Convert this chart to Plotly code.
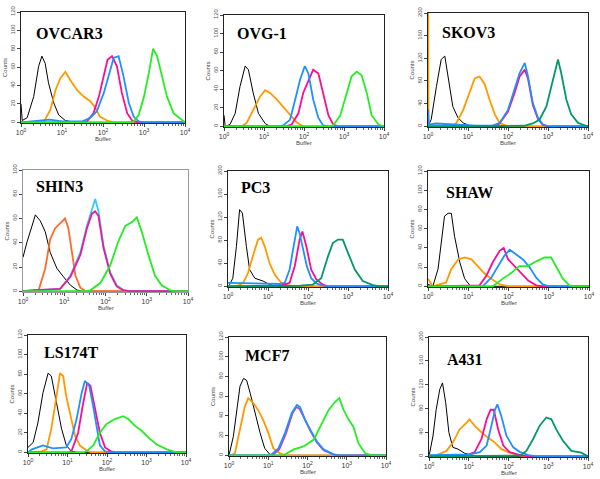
import plotly.graph_objects as go

W, H = 600, 479

# ---- data: (log10 fluorescence, counts) ----
OVCAR3_BLACK = [(0,20),(0.03,2),(0.15,5),(0.31,28),(0.43,61),(0.51,72),(0.59,64),(0.67,43),(0.8,21),(0.92,8),(1.08,2),(1.3,0),(4,0)]
OVCAR3_ORANGE = [(0,0),(0.55,0),(0.72,14),(0.84,35),(0.96,48),(1.08,55),(1.2,46),(1.37,35),(1.53,28),(1.69,23),(1.81,16),(1.93,6),(2.1,2),(2.25,0),(4,0)]
OVCAR3_MAGENTA = [(0,0),(1.5,0),(1.61,1),(1.77,10),(1.9,28),(2.02,50),(2.11,68),(2.22,72),(2.34,61),(2.46,32),(2.59,10),(2.71,2),(2.85,0),(4,0)]
OVCAR3_BLUE = [(0,0),(0.5,2),(0.7,3),(1.0,1),(1.5,1),(1.69,5),(1.85,12),(2.02,32),(2.15,54),(2.26,70),(2.38,72),(2.5,50),(2.63,21),(2.75,6),(2.87,1),(3.0,0),(4,0)]
OVCAR3_GREEN = [(0,0),(2.6,0),(2.75,1),(2.87,8),(3.0,28),(3.12,54),(3.22,80),(3.32,72),(3.44,50),(3.56,28),(3.72,10),(3.93,2),(4,0)]

OVG1_BLACK = [(0,12),(0.03,0),(0.15,2),(0.28,14),(0.4,43),(0.53,65),(0.61,61),(0.73,36),(0.86,14),(1.03,3),(1.15,0),(4,0)]
OVG1_ORANGE = [(0,0),(0.45,0),(0.57,4),(0.73,18),(0.9,32),(1.03,39),(1.15,36),(1.32,29),(1.48,21),(1.65,12),(1.82,4),(1.98,0),(4,0)]
OVG1_BLUE = [(0,0),(1.35,0),(1.48,1),(1.65,7),(1.78,29),(1.9,50),(2.02,65),(2.11,57),(2.23,29),(2.36,9),(2.48,1),(2.6,0),(4,0)]
OVG1_MAGENTA = [(0,0),(1.55,0),(1.69,2),(1.86,14),(1.98,36),(2.11,50),(2.23,61),(2.36,57),(2.48,36),(2.61,12),(2.73,2),(2.85,0),(4,0)]
OVG1_GREEN = [(0,0),(2.6,0),(2.73,1),(2.9,11),(3.07,36),(3.19,54),(3.32,59),(3.44,55),(3.57,36),(3.69,12),(3.86,2),(4,0)]

SKOV3_ORANGE = [(0.005,200),(0.012,0),(0.6,0),(0.71,6),(0.88,29),(1.04,59),(1.17,85),(1.29,88),(1.42,74),(1.54,47),(1.67,21),(1.79,6),(1.96,1),(2.1,0),(4,0)]
SKOV3_BLACK = [(0,0),(0.08,12),(0.21,70),(0.33,118),(0.42,124),(0.5,88),(0.62,35),(0.75,15),(0.88,6),(1.04,1),(1.2,0),(4,0)]
SKOV3_MAGENTA = [(0,0),(1.7,0),(1.79,5),(2.0,26),(2.17,60),(2.29,88),(2.42,100),(2.5,84),(2.62,38),(2.75,13),(2.87,3),(3.0,0),(4,0)]
SKOV3_BLUE = [(0.005,30),(0.02,3),(0.2,5),(0.5,4),(0.8,2),(1.2,1),(1.6,1),(1.79,6),(2.0,29),(2.17,65),(2.29,94),(2.42,112),(2.5,88),(2.62,41),(2.75,15),(2.87,3),(3.0,0),(4,0)]
SKOV3_TEAL = [(0,0),(2.4,1),(2.62,5),(2.79,12),(2.96,35),(3.08,70),(3.19,106),(3.25,118),(3.33,94),(3.46,47),(3.58,21),(3.75,6),(3.95,1),(4,0)]

SHIN3_BLACK = [(0,28),(0.1,41),(0.22,54),(0.3,63),(0.42,58),(0.54,49),(0.66,32),(0.82,19),(0.98,12),(1.15,5),(1.31,1),(1.45,0),(4,0)]
SHIN3_ORANGE = [(0,0),(0.38,1),(0.54,19),(0.66,43),(0.78,52),(0.9,56),(1.02,60),(1.1,52),(1.19,30),(1.27,13),(1.39,3),(1.52,0),(4,0)]
SHIN3_CYAN = [(0,0),(0.5,1),(0.9,2),(1.15,13),(1.39,32),(1.55,54),(1.67,68),(1.75,76),(1.83,66),(1.95,38),(2.11,16),(2.27,5),(2.43,1),(2.6,0),(4,0)]
SHIN3_MAGENTA = [(0,0),(0.3,1),(0.9,2),(1.15,12),(1.39,30),(1.55,52),(1.67,64),(1.75,66),(1.83,62),(1.95,36),(2.11,15),(2.27,4),(2.43,1),(2.6,0),(4,0)]
SHIN3_GREEN = [(0,0),(1.5,0),(1.64,1),(1.88,7),(2.11,21),(2.31,41),(2.48,54),(2.64,57),(2.76,61),(2.88,49),(3.04,30),(3.2,13),(3.36,5),(3.56,1),(3.7,0),(4,0)]

PC3_BLACK = [(0,0),(0.04,3),(0.12,14),(0.21,69),(0.29,133),(0.36,127),(0.46,69),(0.54,29),(0.67,14),(0.88,9),(1.04,3),(1.2,0),(4,0)]
PC3_ORANGE = [(0,0),(0.25,1),(0.38,6),(0.5,23),(0.62,52),(0.75,81),(0.83,84),(0.92,69),(1.04,40),(1.17,20),(1.33,6),(1.5,2),(1.65,0),(4,0)]
PC3_MAGENTA = [(0,0),(1.3,1),(1.54,6),(1.67,35),(1.79,81),(1.86,95),(1.96,69),(2.08,29),(2.21,12),(2.37,3),(2.5,0),(4,0)]
PC3_BLUE = [(0,6),(0.5,5),(1.0,4),(1.3,4),(1.42,6),(1.54,29),(1.64,69),(1.73,104),(1.79,92),(1.87,69),(1.97,35),(2.08,14),(2.21,5),(2.37,1),(2.5,0),(4,0)]
PC3_TEAL = [(0,0),(1.8,1),(2.12,3),(2.33,14),(2.5,52),(2.62,75),(2.75,81),(2.87,81),(3.0,58),(3.17,29),(3.37,9),(3.62,2),(3.8,0),(4,0)]

SHAW_BLACK = [(0,2),(0.12,0),(0.25,18),(0.33,45),(0.41,73),(0.5,76),(0.58,76),(0.66,52),(0.79,25),(0.91,8),(1.04,1),(1.15,0),(4,0)]
SHAW_ORANGE = [(0,8),(0.12,0),(0.45,4),(0.58,18),(0.75,28),(0.91,30),(1.08,28),(1.24,21),(1.41,13),(1.57,8),(1.78,2),(2.0,0),(4,0)]
SHAW_MAGENTA = [(0,0),(1.28,1),(1.45,11),(1.61,25),(1.78,37),(1.88,40),(1.99,28),(2.15,21),(2.32,13),(2.49,6),(2.69,1),(2.85,0),(4,0)]
SHAW_BLUE = [(0,0),(1.36,0),(1.57,9),(1.74,21),(1.9,32),(2.03,38),(2.2,33),(2.36,28),(2.52,20),(2.69,9),(2.85,2),(3.0,0),(4,0)]
SHAW_GREEN = [(0,0),(1.61,0),(1.86,8),(2.07,14),(2.27,21),(2.48,21),(2.69,26),(2.89,30),(3.06,30),(3.18,21),(3.35,8),(3.51,1),(3.65,0),(4,0)]

LS174T_BLACK = [(0,5),(0.13,10),(0.25,30),(0.38,61),(0.51,81),(0.59,78),(0.72,51),(0.85,24),(0.97,7),(1.1,1),(1.25,0),(4,0)]
LS174T_ORANGE = [(0,0),(0.35,1),(0.47,3),(0.59,24),(0.72,57),(0.81,81),(0.89,78),(0.97,57),(1.08,37),(1.19,17),(1.31,7),(1.48,2),(1.6,0),(4,0)]
LS174T_MAGENTA = [(0,0),(1.0,0),(1.1,1),(1.27,20),(1.4,51),(1.5,71),(1.58,68),(1.69,47),(1.82,20),(1.95,5),(2.1,1),(2.2,0),(4,0)]
LS174T_BLUE = [(0,0),(0.1,3),(0.38,7),(0.63,4),(0.97,5),(1.1,14),(1.23,34),(1.36,61),(1.44,73),(1.55,68),(1.65,47),(1.74,24),(1.82,7),(1.95,1),(2.1,0),(4,0)]
LS174T_GREEN = [(0,0),(1.4,0),(1.48,1),(1.65,7),(1.82,20),(1.99,29),(2.2,34),(2.41,37),(2.54,34),(2.71,27),(2.88,22),(3.05,15),(3.26,8),(3.52,3),(3.75,0),(4,0)]

MCF7_BLACK = [(0,0),(0.03,6),(0.11,19),(0.2,46),(0.28,70),(0.37,78),(0.45,76),(0.54,63),(0.66,43),(0.79,23),(0.91,7),(1.04,1),(1.2,0),(4,0)]
MCF7_ORANGE = [(0,0),(0.05,0),(0.15,2),(0.28,26),(0.4,49),(0.49,58),(0.62,53),(0.74,46),(0.87,36),(1.0,23),(1.13,7),(1.3,2),(1.45,0),(4,0)]
MCF7_MAGENTA = [(0,0),(1.1,0),(1.28,6),(1.45,22),(1.62,43),(1.72,49),(1.8,47),(1.94,35),(2.07,25),(2.24,13),(2.41,5),(2.66,1),(2.8,0),(4,0)]
MCF7_BLUE = [(0,0),(1.06,0),(1.26,7),(1.43,23),(1.6,43),(1.73,51),(1.81,49),(1.94,36),(2.07,26),(2.24,14),(2.41,6),(2.66,1),(2.8,0),(4,0)]
MCF7_GREEN = [(0,0),(1.39,0),(1.65,6),(1.9,9),(2.16,16),(2.37,33),(2.54,46),(2.7,54),(2.81,58),(2.92,46),(3.05,36),(3.17,29),(3.3,12),(3.47,2),(3.65,0),(4,0)]

A431_BLACK = [(0,0),(0.02,7),(0.1,34),(0.18,78),(0.27,112),(0.34,123),(0.42,90),(0.5,40),(0.6,15),(0.73,12),(0.9,5),(1.07,2),(1.2,0),(4,0)]
A431_ORANGE = [(0,0),(0.15,1),(0.27,4),(0.44,9),(0.6,23),(0.77,45),(0.94,56),(1.02,62),(1.15,51),(1.32,40),(1.49,31),(1.66,23),(1.82,12),(2.03,6),(2.3,1),(2.45,0),(4,0)]
A431_MAGENTA = [(0,0),(0.94,1),(1.15,7),(1.32,29),(1.45,62),(1.55,78),(1.63,78),(1.74,45),(1.87,18),(2.03,7),(2.29,2),(2.5,0),(4,0)]
A431_BLUE = [(0,2),(0.5,3),(1.0,3),(1.28,7),(1.45,18),(1.57,51),(1.66,78),(1.72,87),(1.82,67),(1.95,34),(2.12,15),(2.29,7),(2.5,2),(2.7,0),(4,0)]
A431_TEAL = [(0,0),(2.2,0),(2.29,1),(2.45,9),(2.62,29),(2.78,51),(2.95,65),(3.08,62),(3.2,45),(3.37,26),(3.58,9),(3.83,6),(3.95,2),(4,0)]

NAMES = ["OVCAR3", "OVG-1", "SKOV3", "SHIN3", "PC3", "SHAW", "LS174T", "MCF7", "A431"]
YMAX = [120, 120, 200, 100, 200, 120, 120, 120, 200]
X_TICK_EXP = [0, 1, 2, 3, 4]

BLACK, ORANGE, MAGENTA, BLUE = "#000000", "#FF9900", "#FF0A96", "#1E90FF"
GREEN, TEAL = "#22EE22", "#00996A"

CURVES = [
    [(OVCAR3_BLACK, BLACK), (OVCAR3_ORANGE, ORANGE), (OVCAR3_MAGENTA, MAGENTA), (OVCAR3_BLUE, BLUE), (OVCAR3_GREEN, GREEN)],
    [(OVG1_BLACK, BLACK), (OVG1_ORANGE, ORANGE), (OVG1_MAGENTA, MAGENTA), (OVG1_BLUE, BLUE), (OVG1_GREEN, GREEN)],
    [(SKOV3_BLACK, BLACK), (SKOV3_ORANGE, ORANGE), (SKOV3_MAGENTA, MAGENTA), (SKOV3_BLUE, BLUE), (SKOV3_TEAL, TEAL)],
    [(SHIN3_BLACK, BLACK), (SHIN3_ORANGE, "#FF6A2A"), (SHIN3_CYAN, "#33CCFF"), (SHIN3_MAGENTA, "#F0189A"), (SHIN3_GREEN, GREEN)],
    [(PC3_BLACK, BLACK), (PC3_ORANGE, ORANGE), (PC3_MAGENTA, MAGENTA), (PC3_BLUE, BLUE), (PC3_TEAL, TEAL)],
    [(SHAW_BLACK, BLACK), (SHAW_ORANGE, ORANGE), (SHAW_MAGENTA, MAGENTA), (SHAW_BLUE, BLUE), (SHAW_GREEN, GREEN)],
    [(LS174T_BLACK, BLACK), (LS174T_ORANGE, ORANGE), (LS174T_MAGENTA, MAGENTA), (LS174T_BLUE, BLUE), (LS174T_GREEN, GREEN)],
    [(MCF7_BLACK, BLACK), (MCF7_ORANGE, ORANGE), (MCF7_MAGENTA, "#C040C8"), (MCF7_BLUE, BLUE), (MCF7_GREEN, GREEN)],
    [(A431_BLACK, BLACK), (A431_ORANGE, ORANGE), (A431_MAGENTA, MAGENTA), (A431_BLUE, BLUE), (A431_TEAL, TEAL)],
]

# panel boxes in pixels: left, right, top, bottom
BOXES = [
    (21, 185, 12, 123), (224, 384, 15, 127), (428, 588, 13, 127),
    (23, 188, 170, 292), (228, 388, 171, 287), (428, 589, 171, 287),
    (28, 186, 335, 453), (229, 386, 337, 456), (429, 588, 337, 457),
]
LABEL_POS = [(34, 33), (235, 33), (440, 32), (34, 186), (239, 187), (444, 192), (42, 352), (243, 355), (445, 359)]

fig = go.Figure()
layout = dict(width=W, height=H, margin=dict(l=0, r=0, t=0, b=0, autoexpand=False),
              paper_bgcolor="white", plot_bgcolor="white", showlegend=False)
annotations = []

for i, name in enumerate(NAMES):
    k = "" if i == 0 else str(i + 1)
    l, r, t, b = BOXES[i]
    frame = "#999999" if name == "SHIN3" else "#222222"
    ymax = YMAX[i]
    dt = 40 if ymax == 200 else 20
    layout["xaxis" + k] = dict(
        domain=[l / W, r / W], anchor="y" + k, type="log", range=[0, 4], automargin=False,
        tickvals=[10 ** e for e in X_TICK_EXP],
        ticktext=["10<sup>%d</sup>" % e for e in X_TICK_EXP],
        ticks="outside", ticklen=3, tickcolor="#444", tickwidth=1,
        minor=dict(ticks="outside", ticklen=2, tickcolor="#666",
                   tickvals=[m * 10 ** e for e in range(4) for m in range(2, 10)]),
        tickfont=dict(size=7, color="#333", family="Liberation Sans"),
        showgrid=False, zeroline=False, showline=True, linecolor=frame, linewidth=1, mirror=True,
    )
    layout["yaxis" + k] = dict(
        domain=[1 - b / H, 1 - t / H], anchor="x" + k, range=[-0.006 * ymax, ymax], automargin=False,
        tickvals=list(range(0, ymax + 1, dt)), tickangle=-90,
        ticks="outside", ticklen=3, tickcolor="#444",
        tickfont=dict(size=6, color="#555", family="Liberation Sans"),
        showgrid=False, zeroline=False, showline=True, linecolor=frame, linewidth=1, mirror=True,
        title=dict(text="Counts", font=dict(size=6, color="#444", family="Liberation Sans"), standoff=1),
    )
    for pts, col in CURVES[i]:
        fig.add_trace(go.Scatter(
            x=[10 ** p[0] for p in pts], y=[p[1] for p in pts],
            xaxis="x" + k, yaxis="y" + k, mode="lines",
            line=dict(color=col, width=1 if col == BLACK else 1.8),
            hoverinfo="skip"))
    lx, ly = LABEL_POS[i]
    annotations.append(dict(
        text="<b>%s</b>" % name, xref="paper", yref="paper", x=lx / W, y=1 - ly / H,
        xanchor="left", yanchor="middle", showarrow=False,
        font=dict(size=16, color="black", family="Liberation Serif")))
    annotations.append(dict(
        text="Buffer", xref="paper", yref="paper", x=(l + r) / 2 / W,
        y=1 - (b + 16) / H,
        xanchor="center", yanchor="middle", showarrow=False,
        font=dict(size=6, color="#444", family="Liberation Sans")))

layout["annotations"] = annotations
fig.update_layout(**layout)
fig.write_html("out.html", config={"displayModeBar": False},
               post_script="document.body.style.margin='0';document.body.style.overflow='hidden';")
